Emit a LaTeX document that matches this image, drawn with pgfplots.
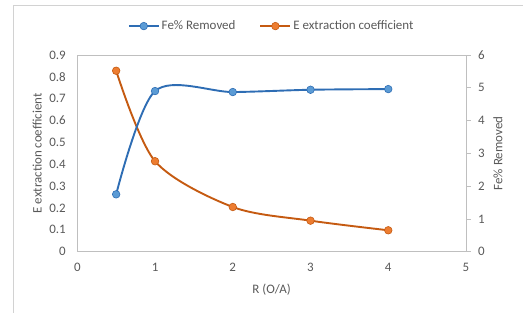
\documentclass[border=0pt]{standalone}
\usepackage{pgfplots}
\pgfplotsset{compat=1.18}
\usepackage{fontspec}
\setmainfont{Carlito}
\definecolor{txt}{HTML}{595959}
\definecolor{axl}{HTML}{BFBFBF}
\definecolor{bline}{HTML}{2E6DB4}
\definecolor{bfill}{HTML}{5B9BD5}
\definecolor{oline}{HTML}{C55A11}
\definecolor{ofill}{HTML}{ED7D31}
\begin{document}
\begin{tikzpicture}
\useasboundingbox (0,0) rectangle (523bp,313bp);
\clip (0,0) rectangle (523bp,313bp);
\draw[color=axl!70, line width=0.8bp] (13bp,-5bp) -- (13bp,307.7bp) -- (540bp,307.7bp);
\pgfplotsset{
  common/.style={
    scale only axis, width=388.7bp, height=196.7bp,
    at={(77.3bp,61.3bp)}, anchor=south west,
    xmin=0, xmax=5,
    font=\fontsize{13}{15}\selectfont,
    tick label style={color=txt, font=\fontsize{13}{15}\selectfont},
    label style={color=txt, font=\fontsize{13}{15}\selectfont},
    /pgf/number format/assume math mode=true,
    axis line style={color=axl, line width=0.8bp},
  }
}
\begin{axis}[common,
  ymin=0, ymax=0.9,
  ytick={0,0.1,...,0.9},
  xtick={0,1,2,3,4,5},
  major tick length=0pt,
  yticklabel style={/pgf/number format/fixed, /pgf/number format/precision=1, xshift=-8bp},
  xticklabel style={yshift=-8bp},
  ylabel={E extraction coefficient},
  ylabel style={at={(axis description cs:-0.103,0.5)}, anchor=center},
  xlabel={R (O/A)},
  xlabel style={at={(axis description cs:0.5,-0.193)}, anchor=center},
]
\addplot[color=oline, line width=1.9bp, smooth, mark=*, mark size=3.8bp,
  mark options={fill=ofill, draw=oline, line width=0.6bp}]
  coordinates {(0.5,0.828) (1,0.414) (2,0.2045) (3,0.142) (4,0.098)};
\end{axis}
\begin{axis}[common,
  ymin=0, ymax=6,
  ytick={0,1,...,6},
  axis x line=none,
  axis y line*=right,
  y axis line style={color=axl, line width=0.8bp},
  major tick length=4.5bp,
  tick align=outside,
  major tick style={color=axl, line width=0.8bp},
  yticklabel style={xshift=4bp},
  ylabel={Fe\% Removed},
  ylabel style={at={(axis description cs:1.0823,0.5)}, anchor=center},
  legend columns=2,
  legend style={at={(axis description cs:0.5,1.147)}, anchor=center, draw=none, fill=none,
    font=\fontsize{13}{15}\selectfont, text=txt,
    /tikz/every even column/.append style={column sep=22bp}},
  legend image code/.code={
    \draw[#1, mark repeat=2, mark phase=2] plot coordinates {(0bp,0bp) (15bp,0bp) (30bp,0bp)};
  },
]
\addplot[color=bline, line width=1.9bp, smooth, mark=*, mark size=3.8bp,
  mark options={fill=bfill, draw=bline, line width=0.6bp}]
  coordinates {(0.5,1.75) (1,4.90) (2,4.87) (3,4.94) (4,4.96)};
\addlegendentry{Fe\% Removed}
\addlegendimage{color=oline, line width=1.9bp, mark=*, mark size=3.8bp,
  mark options={fill=ofill, draw=oline, line width=0.6bp}}
\addlegendentry{E extraction coefficient}
\end{axis}
\end{tikzpicture}
\end{document}
